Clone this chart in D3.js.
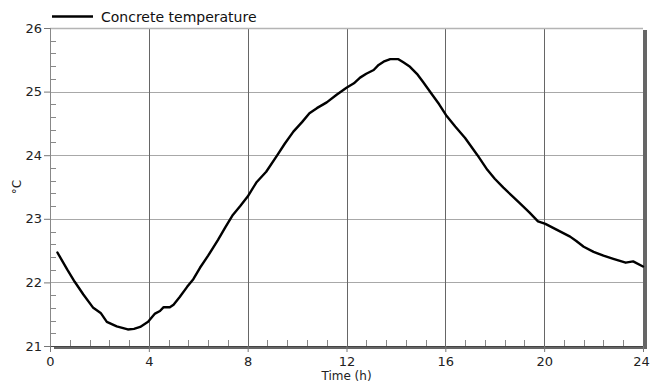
<!DOCTYPE html>
<html>
<head>
<meta charset="utf-8">
<script src="https://cdn.jsdelivr.net/npm/d3@7"></script>
<style>
  html, body { margin: 0; padding: 0; background: #fff; }
  svg { display: block; font-family: "DejaVu Sans", Verdana, sans-serif; }
</style>
</head>
<body>
<svg id="chart" width="650" height="382"></svg>
<script>
// Concrete temperature over one day
const hours = [0.3, 0.7, 1.0, 1.35, 1.75, 2.05, 2.3, 2.7, 3.15, 3.4, 3.65, 3.97, 4.25, 4.45, 4.6, 4.85, 5.0, 5.25, 5.55, 5.8, 6.07, 6.4, 6.8, 7.1, 7.4, 7.7, 8.0, 8.35, 8.75, 9.2, 9.5, 9.85, 10.2, 10.5, 10.8, 11.2, 11.6, 12.0, 12.3, 12.55, 12.8, 13.1, 13.3, 13.5, 13.77, 14.1, 14.3, 14.57, 14.85, 15.1, 15.47, 15.75, 16.03, 16.4, 16.8, 17.3, 17.7, 18.0, 18.35, 18.7, 19.0, 19.4, 19.75, 20.05, 20.5, 21.05, 21.3, 21.6, 22.0, 22.4, 22.8, 23.3, 23.6, 24.0];
const temperature = [22.47, 22.2, 22.01, 21.81, 21.6, 21.52, 21.38, 21.31, 21.26, 21.27, 21.3, 21.38, 21.51, 21.55, 21.61, 21.61, 21.65, 21.77, 21.93, 22.05, 22.23, 22.42, 22.67, 22.87, 23.06, 23.2, 23.35, 23.57, 23.74, 24.0, 24.18, 24.37, 24.52, 24.66, 24.74, 24.83, 24.95, 25.06, 25.13, 25.22, 25.28, 25.34, 25.42, 25.47, 25.51, 25.51, 25.46, 25.39, 25.28, 25.15, 24.95, 24.8, 24.63, 24.45, 24.27, 24.0, 23.77, 23.63, 23.49, 23.36, 23.25, 23.1, 22.96, 22.92, 22.83, 22.72, 22.65, 22.56, 22.48, 22.42, 22.37, 22.31, 22.33, 22.25];

const xTicks = [0, 4, 8, 12, 16, 20, 24];
const yTicks = [21, 22, 23, 24, 25, 26];
const seriesName = "Concrete temperature";
const xTitle = "Time (h)";
const yTitle = "°C";

const svg = d3.select("#chart");
const m = { left: 50, right: 7, top: 28, bottom: 36 };
const W = 650, H = 382;
const x = d3.scaleLinear().domain([0, 24]).range([m.left, W - m.right]);
const y = d3.scaleLinear().domain([21, 26]).range([H - m.bottom, m.top]);

const xMinor = d3.range(0, 24.001, 0.8).filter(v => !xTicks.some(t => Math.abs(t - v) < 1e-6));
const yMinor = d3.range(21, 26.001, 0.2).filter(v => !yTicks.some(t => Math.abs(t - v) < 1e-6));

// horizontal grid
svg.append("g").selectAll("line").data(yTicks.slice(1, -1)).join("line")
  .attr("x1", x(0)).attr("x2", x(24))
  .attr("y1", d => Math.round(y(d)) + 0.5).attr("y2", d => Math.round(y(d)) + 0.5)
  .attr("stroke", "#a8a8a8").attr("stroke-width", 1);
// vertical grid
svg.append("g").selectAll("line").data(xTicks.slice(1, -1)).join("line")
  .attr("x1", d => Math.round(x(d)) + 0.5).attr("x2", d => Math.round(x(d)) + 0.5)
  .attr("y1", y(26)).attr("y2", y(21))
  .attr("stroke", "#666").attr("stroke-width", 1);

// frame: light top edge, shaded right and bottom edges
svg.append("line").attr("x1", x(0)).attr("x2", x(24)).attr("y1", y(26) + 0.5).attr("y2", y(26) + 0.5)
  .attr("stroke", "#b4b4b4").attr("stroke-width", 1.5);
svg.append("rect").attr("x", x(24)).attr("y", y(26) + 2).attr("width", 4).attr("height", y(21) - y(26) + 1)
  .attr("fill", "#666");
svg.append("rect").attr("x", x(0) + 4).attr("y", y(21)).attr("width", x(24) - x(0)).attr("height", 3)
  .attr("fill", "#666");
svg.append("line").attr("x1", x(0) + 0.5).attr("x2", x(0) + 0.5).attr("y1", y(26)).attr("y2", y(21))
  .attr("stroke", "#888").attr("stroke-width", 1);
svg.append("line").attr("x1", x(0)).attr("x2", x(24)).attr("y1", y(21) + 0.5).attr("y2", y(21) + 0.5)
  .attr("stroke", "#444").attr("stroke-width", 1);

// minor ticks
svg.append("g").selectAll("line").data(xMinor).join("line")
  .attr("x1", d => Math.round(x(d)) + 0.5).attr("x2", d => Math.round(x(d)) + 0.5)
  .attr("y1", y(21) - 6).attr("y2", y(21))
  .attr("stroke", "#888");
svg.append("g").selectAll("line").data(yMinor).join("line")
  .attr("x1", x(0)).attr("x2", x(0) + 6)
  .attr("y1", d => Math.round(y(d)) + 0.5).attr("y2", d => Math.round(y(d)) + 0.5)
  .attr("stroke", "#888");

// axes with major ticks and labels
const xAxis = svg.append("g").attr("transform", `translate(0,${y(21)})`)
  .call(d3.axisBottom(x).tickValues(xTicks).tickSize(6).tickSizeOuter(0).tickFormat(d3.format("d")));
const yAxis = svg.append("g").attr("transform", `translate(${x(0)},0)`)
  .call(d3.axisLeft(y).tickValues(yTicks).tickSize(6).tickSizeOuter(0).tickFormat(d3.format("d")));
[xAxis, yAxis].forEach(g => {
  g.select(".domain").remove();
  g.selectAll(".tick line").attr("stroke", "#777");
  g.selectAll(".tick text").attr("fill", "#222").style("font-size", "13px")
    .style("font-family", "'DejaVu Sans', Verdana, sans-serif");
});
xAxis.selectAll(".tick text").attr("y", 8).attr("dy", "0.9em")
  .attr("dx", d => d === 24 ? -2 : 0);
yAxis.selectAll(".tick text").attr("x", -8);

// axis titles
svg.append("text").attr("x", (x(0) + x(24)) / 2).attr("y", 380).attr("text-anchor", "middle")
  .attr("fill", "#222").style("font-size", "12px").text(xTitle);
svg.append("text").attr("transform", `translate(21,${(y(21) + y(26)) / 2}) rotate(-90)`)
  .attr("text-anchor", "middle").attr("fill", "#222").style("font-size", "12px").text(yTitle);

// temperature curve
const pts = hours.map((h, i) => [h, temperature[i]]);
svg.append("path").datum(pts)
  .attr("fill", "none").attr("stroke", "#000").attr("stroke-width", 2.4)
  .attr("stroke-linejoin", "round").attr("stroke-linecap", "round")
  .attr("d", d3.line().x(d => x(d[0])).y(d => y(d[1])));

// legend
svg.append("line").attr("x1", 52).attr("x2", 93).attr("y1", 16.5).attr("y2", 16.5)
  .attr("stroke", "#000").attr("stroke-width", 2.4);
svg.append("text").attr("x", 101).attr("y", 22).attr("fill", "#111")
  .style("font-size", "14px").text(seriesName);
</script>
</body>
</html>
